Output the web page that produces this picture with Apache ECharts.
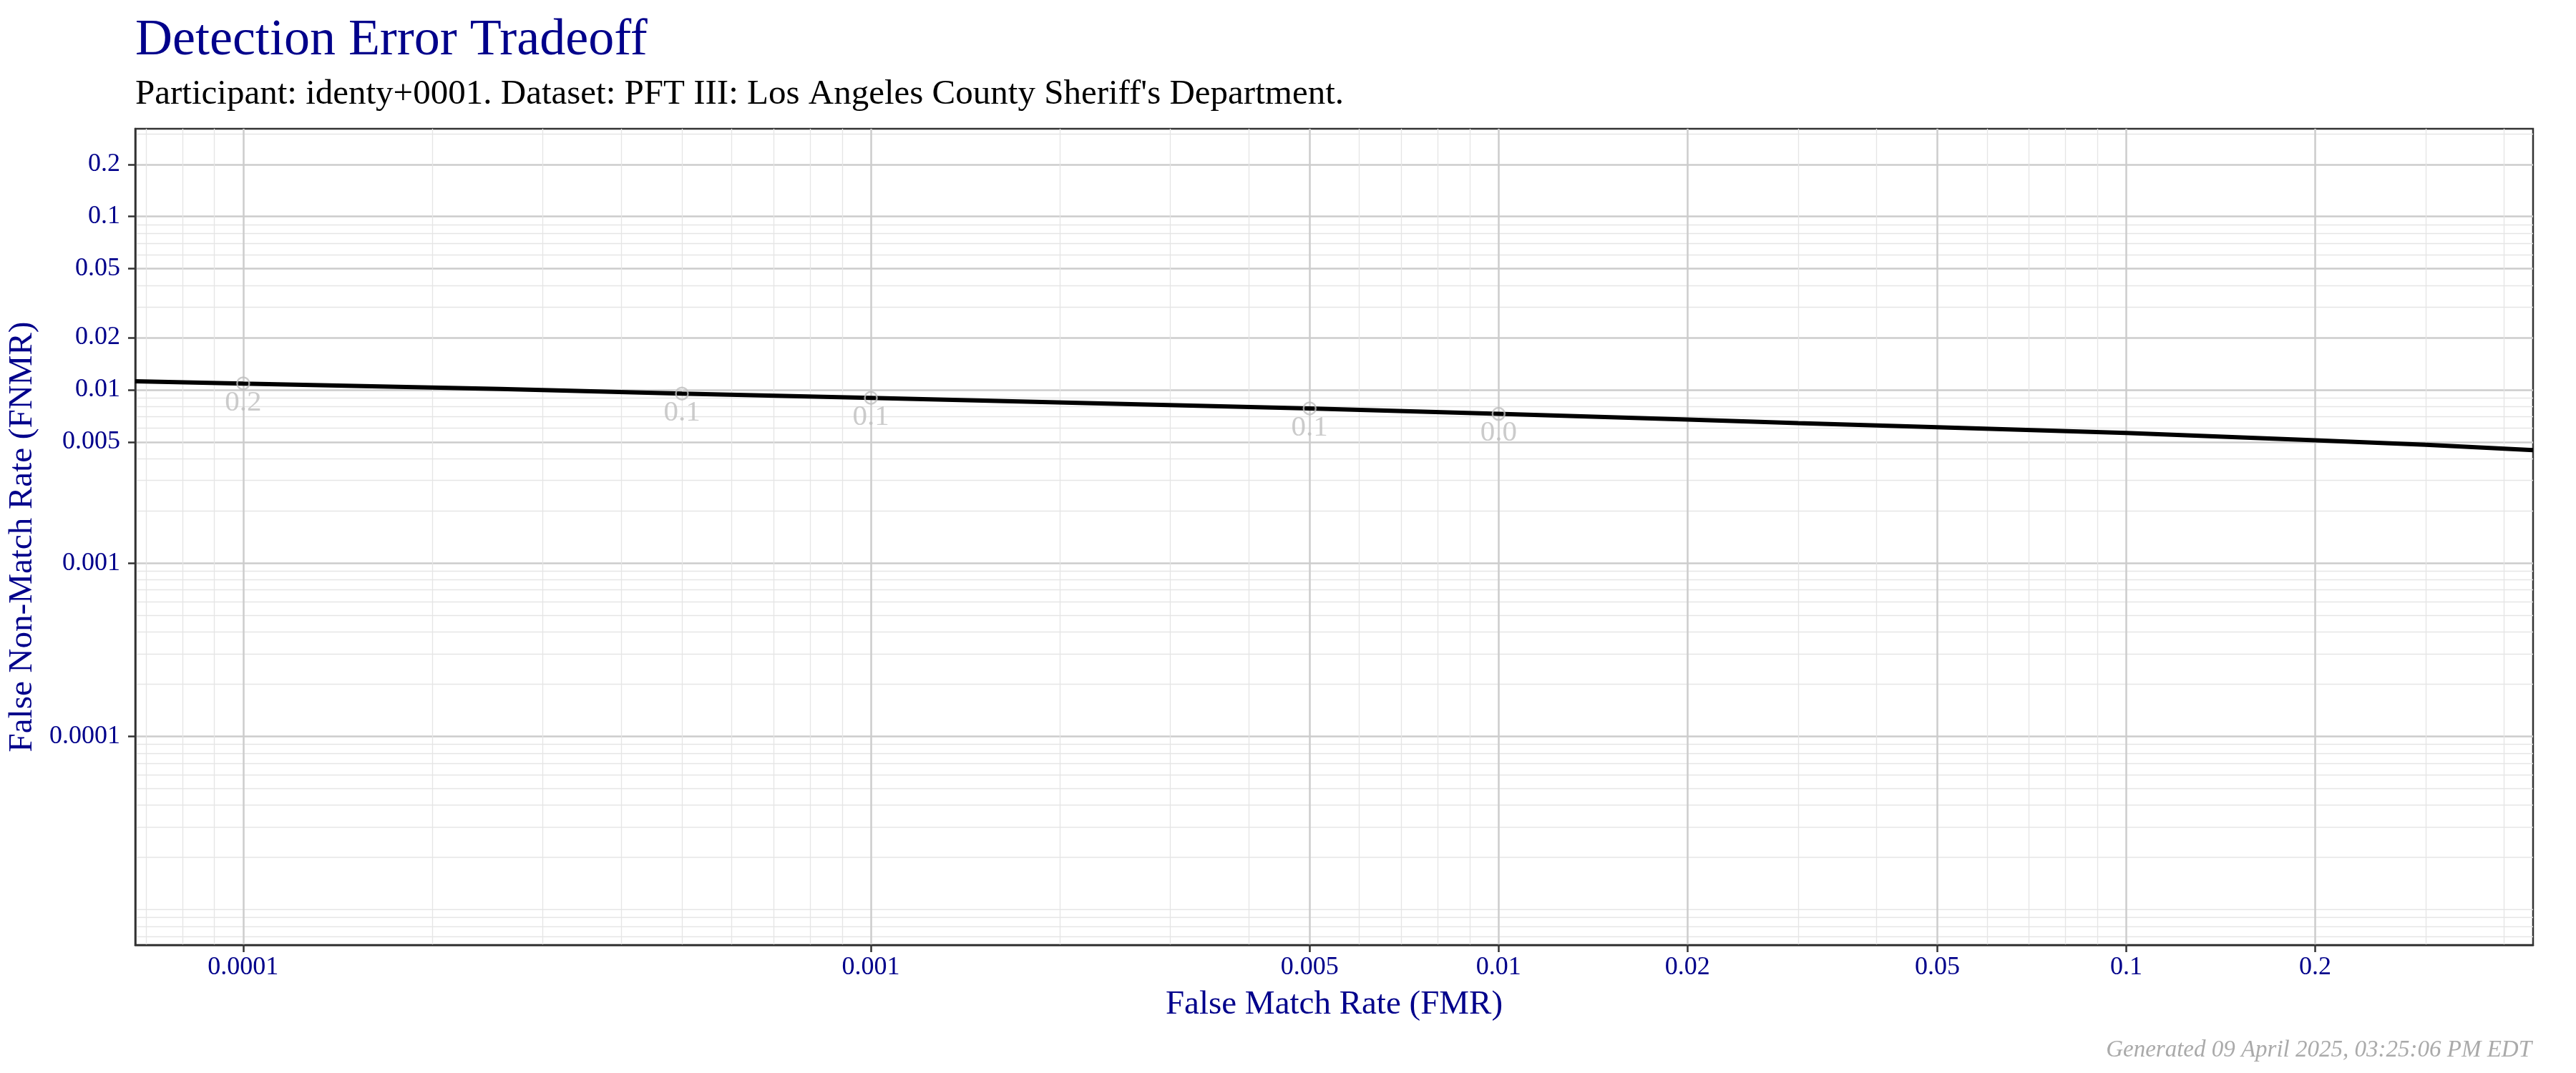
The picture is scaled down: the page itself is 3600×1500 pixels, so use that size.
<!DOCTYPE html>
<html>
<head>
<meta charset="utf-8">
<style>
html,body{margin:0;padding:0;background:#ffffff;}
#chart{width:3600px;height:1500px;}
</style>
<script src="https://cdn.jsdelivr.net/npm/echarts@6/dist/echarts.min.js"></script>
</head>
<body>
<div id="chart"></div>
<script>
// ---- data ----
const curveFMR  = [6.73e-5, 0.0001, 0.000257, 0.0005, 0.001, 0.005, 0.01, 0.02, 0.03, 0.05, 0.1, 0.2, 0.3, 0.4447];
const curveFNMR = [0.01120, 0.01085, 0.0101, 0.00951, 0.00898, 0.00781, 0.00726, 0.00673, 0.00642, 0.00608, 0.00564, 0.00511, 0.00482, 0.00449];

const threshFMR    = [0.0001, 0.0005, 0.001, 0.005, 0.01];
const threshFNMR   = [0.01089, 0.00951, 0.00898, 0.00781, 0.00726];
const threshLabels = ['0.2', '0.1', '0.1', '0.1', '0.0'];

const xMajorTicks = [0.0001, 0.001, 0.005, 0.01, 0.02, 0.05, 0.1, 0.2];
const yMajorTicks = [0.0001, 0.001, 0.005, 0.01, 0.02, 0.05, 0.1, 0.2];
const xMinorTicks = [7e-5, 8e-5, 9e-5, 2e-4, 3e-4, 4e-4, 5e-4, 6e-4, 7e-4, 8e-4, 9e-4,
  0.002, 0.003, 0.004, 0.006, 0.007, 0.008, 0.009, 0.03, 0.04, 0.06, 0.07, 0.08, 0.09, 0.3, 0.4];
const yMinorTicks = [7e-6, 8e-6, 9e-6, 1e-5, 2e-5, 3e-5, 4e-5, 5e-5, 6e-5, 7e-5, 8e-5, 9e-5,
  2e-4, 3e-4, 4e-4, 5e-4, 6e-4, 7e-4, 8e-4, 9e-4, 0.002, 0.003, 0.004, 0.006, 0.007, 0.008, 0.009,
  0.03, 0.04, 0.06, 0.07, 0.08, 0.09, 0.3];

const xRange = [6.73e-5, 0.4447];
const yRange = [6.25e-6, 0.321];

const titleText = 'Detection Error Tradeoff';
const subtitleText = "Participant: identy+0001. Dataset: PFT III: Los Angeles County Sheriff's Department.";
const footerText = 'Generated 09 April 2025, 03:25:06 PM EDT';
const xName = 'False Match Rate (FMR)';
const yName = 'False Non-Match Rate (FNMR)';

// ---- chart ----
const FONT = 'Liberation Serif';
const BLUE = '#00008B';
const fmt = v => String(+(+v).toPrecision(6));

const chart = echarts.init(document.getElementById('chart'), null, {renderer: 'canvas'});

const minorAxisCommon = {
  type: 'log', logBase: 10,
  axisLine: {show: false}, axisLabel: {show: false},
  axisTick: {show: false},
  splitLine: {show: true, lineStyle: {color: '#E5E5E5', width: 1.3}}
};

chart.setOption({
  animation: false,
  backgroundColor: '#ffffff',
  textStyle: {fontFamily: FONT},
  title: [
    {text: titleText, left: 189, top: 21, padding: 0,
     textStyle: {fontFamily: FONT, fontSize: 72, fontWeight: 'normal', color: BLUE}},
    {text: subtitleText, left: 189, top: 108, padding: 0,
     textStyle: {fontFamily: FONT, fontSize: 49, fontWeight: 'normal', color: '#000000'}},
    {text: footerText, right: 62, top: 1452, padding: 0,
     textStyle: {fontFamily: FONT, fontSize: 33, fontStyle: 'italic', fontWeight: 'normal', color: '#AAAAAA'}}
  ],
  grid: {left: 189, top: 180, width: 3351, height: 1141, show: true,
         containLabel: false, outerBoundsMode: 'none',
         borderColor: '#333333', borderWidth: 2.5, backgroundColor: '#ffffff'},
  xAxis: [
    Object.assign({}, minorAxisCommon, {min: xRange[0], max: xRange[1], position: 'bottom',
      axisTick: {show: false, customValues: xMinorTicks}}),
    {type: 'log', logBase: 10, min: xRange[0], max: xRange[1], position: 'bottom',
     name: xName, nameLocation: 'middle', nameGap: 60,
     nameTextStyle: {fontFamily: FONT, fontSize: 47, color: BLUE},
     axisLine: {show: true, lineStyle: {color: '#333333', width: 2.5}},
     axisTick: {show: true, length: 10, inside: false, customValues: xMajorTicks,
                lineStyle: {color: '#333333', width: 2.5}},
     axisLabel: {show: true, customValues: xMajorTicks, margin: 14, fontSize: 36,
                 fontFamily: FONT, color: BLUE, formatter: fmt},
     splitLine: {show: true, lineStyle: {color: '#CCCCCC', width: 2.5}}}
  ],
  yAxis: [
    Object.assign({}, minorAxisCommon, {min: yRange[0], max: yRange[1], position: 'left',
      axisTick: {show: false, customValues: yMinorTicks}}),
    {type: 'log', logBase: 10, min: yRange[0], max: yRange[1], position: 'left',
     name: yName, nameLocation: 'middle', nameGap: 134, nameRotate: 90,
     nameTextStyle: {fontFamily: FONT, fontSize: 47, color: BLUE},
     axisLine: {show: true, lineStyle: {color: '#333333', width: 2.5}},
     axisTick: {show: true, length: 10, inside: false, customValues: yMajorTicks,
                lineStyle: {color: '#333333', width: 2.5}},
     axisLabel: {show: true, customValues: yMajorTicks, margin: 21, fontSize: 36,
                 fontFamily: FONT, color: BLUE, formatter: fmt},
     splitLine: {show: true, lineStyle: {color: '#CCCCCC', width: 2.5}}}
  ],
  series: [
    {type: 'line', xAxisIndex: 1, yAxisIndex: 1, smooth: false, symbol: 'none',
     lineStyle: {color: '#000000', width: 6}, clip: true, z: 3,
     data: curveFMR.map((x, i) => [x, curveFNMR[i]])},
    {type: 'scatter', xAxisIndex: 1, yAxisIndex: 1, symbol: 'circle', symbolSize: 17, z: 4,
     itemStyle: {color: 'rgba(0,0,0,0)', borderColor: '#BEBEBE', borderWidth: 2.5},
     label: {show: true, position: 'inside', offset: [0, 27], fontFamily: FONT, fontSize: 41,
             color: '#BEBEBE', formatter: p => threshLabels[p.dataIndex]},
     data: threshFMR.map((x, i) => [x, threshFNMR[i]])}
  ]
});
</script>
</body>
</html>
